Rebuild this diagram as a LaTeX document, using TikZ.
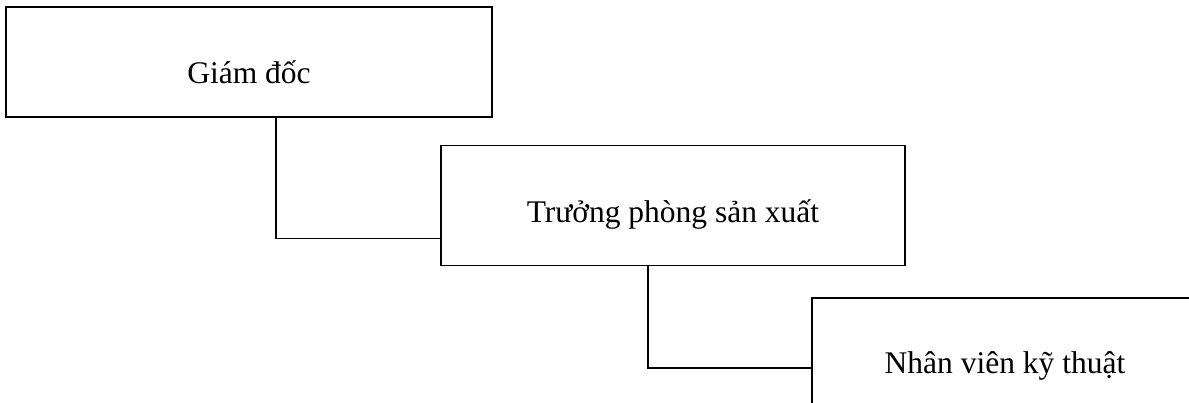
\documentclass[tikz,border=0pt]{standalone}
\usepackage{fontspec}
\setmainfont{Liberation Serif}
\begin{document}
\begin{tikzpicture}[x=1pt,y=-1pt,
  box/.style={draw=black, line width=1.8pt, rectangle, inner sep=0pt, fill=none},
  lbl/.style={font=\fontsize{31.5}{36}\selectfont, inner sep=0pt, anchor=base},
  conn/.style={draw=black, line width=1.5pt}]
\useasboundingbox (0,0) rectangle (1189,402);
\clip (0,0) rectangle (1189,402);
\fill[white] (0,0) rectangle (1189,402);
% boxes
\node[box, minimum width=486pt, minimum height=110pt] (g) at (249,62) {};
\node[box, minimum width=464pt, minimum height=120pt] (t) at (673,205.5) {};
\node[box, minimum width=386pt, minimum height=120pt] (n) at (1005,358) {};
% texts
\node[lbl] (gl) at ([yshift=-77pt]g.north) {Giám đốc};
\node[lbl] (tl) at ([yshift=-78pt]t.north) {Trưởng phòng sản xuất};
\node[lbl] (nl) at ([yshift=-76pt]n.north) {Nhân viên kỹ thuật};
% connectors
\draw[conn] ([xshift=271pt]g.south west) |- ([yshift=28pt]t.south west);
\draw[conn] ([xshift=208pt]t.south west) |- ([yshift=-71pt]n.north west);
\end{tikzpicture}
\end{document}
